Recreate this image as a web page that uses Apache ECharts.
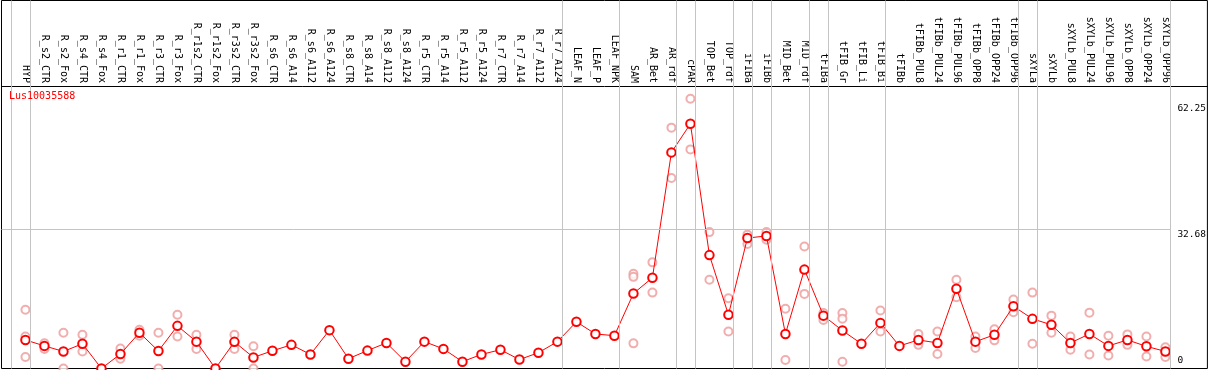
<!DOCTYPE html>
<html>
<head>
<meta charset="utf-8">
<script src="https://cdn.jsdelivr.net/npm/echarts@6/dist/echarts.min.js"></script>
<style>html,body{margin:0;padding:0;background:#fff;}#c{width:1209px;height:370px;}</style>
</head>
<body>
<div id="c"></div>
<script>
const categories = ["HYP","R_s2_CTR","R_s2_Fox","R_s4_CTR","R_s4_Fox","R_r1_CTR","R_r1_Fox","R_r3_CTR","R_r3_Fox","R_r1s2_CTR","R_r1s2_Fox","R_r3s2_CTR","R_r3s2_Fox","R_s6_CTR","R_s6_A14","R_s6_A112","R_s6_A124","R_s8_CTR","R_s8_A14","R_s8_A112","R_s8_A124","R_r5_CTR","R_r5_A14","R_r5_A112","R_r5_A124","R_r7_CTR","R_r7_A14","R_r7_A112","R_r7_A124","LEAF_N","LEAF_P","LEAF_NPK","SAM","AR_Bet","AR_rdf","cPAR","TOP_Bet","TOP_rdf","iFIBa","iFIBb","MID_Bet","MID_rdf","tFIBa","tFIB_Gr","tFIB_Li","tFIB_Bi","tFIBb","tFIBb_PUL8","tFIBb_PUL24","tFIBb_PUL96","tFIBb_OPP8","tFIBb_OPP24","tFIBb_OPP96","sXYLa","sXYLb","sXYLb_PUL8","sXYLb_PUL24","sXYLb_PUL96","sXYLb_OPP8","sXYLb_OPP24","sXYLb_OPP96"];
const meanValues = [6.7,5.3,4.0,5.8,0,3.4,8.4,4.1,10.0,6.3,0,6.25,2.6,4.15,5.55,3.3,9.0,2.3,4.2,6.0,1.6,6.3,4.6,1.6,3.3,4.4,2.1,3.7,6.3,10.95,8.1,7.7,17.6,21.3,50.7,57.4,26.6,12.6,30.6,31.1,8.1,23.2,12.4,8.9,5.8,10.7,5.3,6.7,6.0,18.7,6.3,7.9,14.6,11.65,10.25,6.0,8.1,5.3,6.7,5.2,4.0];
const rep1 = [13.8,5.9,8.4,7.9,null,4.7,9.1,8.4,12.6,7.9,null,7.9,5.2,null,null,null,null,null,null,null,null,null,null,null,null,null,null,null,null,null,null,null,22.2,24.9,56.5,63.3,32.0,16.5,31.4,32.0,14.0,28.6,13.0,13.0,null,13.6,null,8.1,8.7,20.8,7.5,9.2,16.2,17.8,12.4,7.5,13.1,7.7,8.0,7.5,5.0];
const rep2 = [7.5,4.6,0,4.0,null,2.3,7.7,0,7.5,4.6,null,4.6,0,null,null,null,null,null,null,null,null,null,null,null,null,null,null,null,null,null,null,null,21.5,17.8,44.7,51.4,20.8,8.7,29.2,30.2,2.0,17.5,11.4,11.7,null,8.7,null,5.55,3.4,16.7,4.8,6.6,13.2,5.8,8.4,4.4,3.3,3.05,5.55,2.8,2.7];
const rep3 = [2.7,null,null,null,null,null,null,null,null,null,null,null,null,null,null,null,null,null,null,null,null,null,null,null,null,null,null,null,null,null,null,null,5.9,null,null,null,null,null,null,null,null,null,null,1.6,null,null,null,null,null,null,null,null,null,null,null,null,null,null,null,null,null];
const groupSeparators = [-0.75,0.25,28.25,31.25,34.25,35.25,37.25,38.25,39.25,41.25,42.25,45.25,52.25,53.25,60.25];
const yTickValues = [0, 32.68, 62.25];
const gridLineValue = 32.68;
const titleText = "Lus10035588";

const mono = "DejaVu Sans Mono";
const catIdx = categories.map((_, i) => i);
const meanData = meanValues.map((v, i) => [i, v]);
const repData = [];
[rep1, rep2, rep3].forEach(arr => arr.forEach((v, i) => { if (v !== null) repData.push([i, v]); }));

const X_MIN = -1.26, X_MAX = 62.21, Y_MAX = 86.33;

const chart = echarts.init(document.getElementById('c'), null, {renderer: 'canvas'});
chart.setOption({
  animation: false,
  backgroundColor: '#fff',
  title: {
    text: titleText, left: 9, top: 91, padding: 0,
    textStyle: {color: '#ff0000', fontSize: 10, fontWeight: 'normal', fontFamily: mono}
  },
  grid: {left: 1.5, right: 1, top: 0.5, bottom: 1.5, show: true, borderColor: '#000', borderWidth: 1, backgroundColor: 'transparent'},
  xAxis: {
    type: 'value', position: 'top', offset: -85.5, min: X_MIN, max: X_MAX,
    axisLine: {show: true, onZero: false, lineStyle: {color: '#000', width: 1}},
    axisTick: {show: false},
    splitLine: {show: false},
    axisLabel: {
      customValues: catIdx, rotate: 90, margin: 3,
      fontFamily: mono, fontSize: 10, color: '#000',
      formatter: v => categories[Math.round(v)] || ''
    }
  },
  yAxis: [{
    type: 'value', position: 'right', min: 0, max: Y_MAX,
    axisLine: {show: false}, axisTick: {show: false}, splitLine: {show: false},
    axisLabel: {
      customValues: yTickValues.filter(v => v > 0), inside: true, align: 'left', margin: 30,
      verticalAlign: 'top', fontFamily: mono, fontSize: 9.5, color: '#000',
      formatter: v => v.toFixed(2)
    }
  }, {
    type: 'value', position: 'right', min: 0, max: Y_MAX,
    axisLine: {show: false}, axisTick: {show: false}, splitLine: {show: false},
    axisLabel: {
      customValues: yTickValues.filter(v => v === 0), inside: true, align: 'left', margin: 30,
      verticalAlign: 'bottom', padding: [0, 0, 3, 0], fontFamily: mono, fontSize: 9.5, color: '#000',
      formatter: v => String(v)
    }
  }],
  series: [{
    type: 'line', name: 'guides', data: [], silent: true, z: 1,
    markLine: {
      silent: true, symbol: ['none', 'none'], animation: false,
      label: {show: false},
      lineStyle: {color: '#c4c4c4', width: 1, type: 'solid'},
      data: groupSeparators.map(x => ({xAxis: x})).concat([[{coord: [X_MIN, gridLineValue]}, {coord: [groupSeparators[groupSeparators.length - 1], gridLineValue]}]])
    }
  }, {
    type: 'scatter', name: 'replicates', data: repData, z: 2,
    symbol: 'emptyCircle', symbolSize: 8,
    itemStyle: {color: '#ee9a9a', borderColor: '#ee9a9a', borderWidth: 1.5}
  }, {
    type: 'line', name: 'mean', data: meanData, z: 3,
    symbol: 'emptyCircle', symbolSize: 8.5, showAllSymbol: true,
    lineStyle: {color: '#ff0000', width: 1},
    itemStyle: {color: '#ff0000', borderColor: '#e00000', borderWidth: 2}
  }]
});
</script>
</body>
</html>
